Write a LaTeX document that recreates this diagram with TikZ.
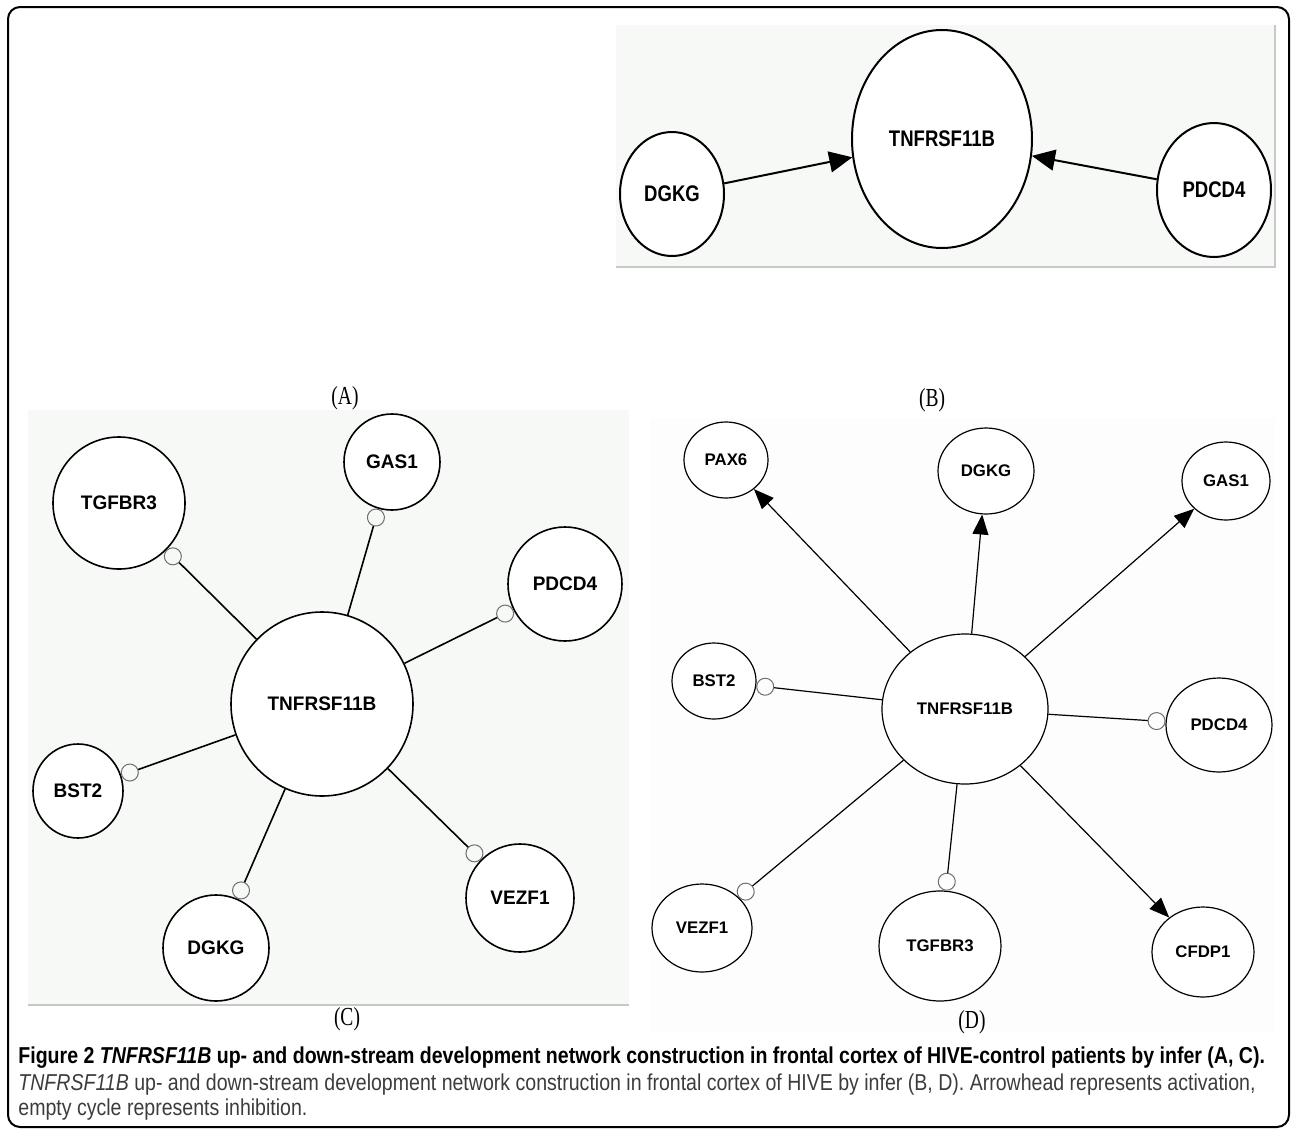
\documentclass[tikz,border=0pt]{standalone}
\usepackage{fontspec}
\usepackage{tikz}
\usetikzlibrary{shapes.geometric,arrows.meta}

\newfontfamily\genB[FakeStretch=0.82]{Liberation Sans}
\newfontfamily\genC[FakeStretch=0.97]{Liberation Sans}
\newfontfamily\genD{Liberation Sans}
\newfontfamily\panelfont[FakeStretch=0.75]{Liberation Serif}
\newfontfamily\capfont[FakeStretch=0.85]{Liberation Sans}

\definecolor{bgtint}{RGB}{246,249,246}
\definecolor{bgpale}{RGB}{253,253,253}
\definecolor{rulegray}{RGB}{200,200,200}
\definecolor{inhgray}{RGB}{110,110,110}
\definecolor{captext}{RGB}{60,60,60}

\tikzset{
    gene/.style={ellipse, draw, fill=white, inner sep=0pt},
    size/.style 2 args={minimum width=#1pt, minimum height=#2pt},
    act/.style 2 args={-{Triangle[length=#1, width=#2]}},
    inh/.style={-{Circle[open, length=#1, color=inhgray, line width=0.5pt]}},
}

\begin{document}
\begin{tikzpicture}[x=0.5pt, y=-0.5pt]
    \useasboundingbox (0,0) rectangle (1292,1131);
    \draw[line width=1pt, rounded corners=6pt] (8,7) rectangle (1289,1127);

    % backgrounds of the panels
    \fill[bgtint] (616,25) rectangle (1275,267);
    \draw[rulegray, line width=0.6pt] (616,267) -- (1275,267) -- (1275,25);
    \fill[bgtint] (28,410) rectangle (629,1005);
    \draw[rulegray, line width=0.6pt] (28,1005) -- (629,1005);
    \fill[bgpale] (650,418) rectangle (1275,1033);

    % panel labels
    \foreach \lbl/\px/\py in {A/345/398, B/932/400, C/347/1019, D/972/1022}
        \node[font=\panelfont\fontsize{13}{13}\selectfont] (lbl\lbl) at (\px,\py) {(\lbl)};

    % (A) two regulators
    \begin{scope}[line width=1pt, font=\genB\bfseries\fontsize{11.3}{12}\selectfont]
        \node[gene, size={52}{62}] (dgkgB) at (672,194) {DGKG};
        \node[gene, size={90}{109}] (hubB) at (942,139) {TNFRSF11B};
        \node[gene, size={57}{67}] (pdcdB) at (1214,190) {PDCD4};
        \draw[act={11.5pt}{10.5pt}] (dgkgB) -- (hubB);
        \draw[act={11.5pt}{10.5pt}] (pdcdB) -- (hubB);
    \end{scope}

    % (C) control network
    \begin{scope}[line width=0.8pt, font=\genC\bfseries\fontsize{9.8}{11}\selectfont]
        \node[gene, size={91}{92}] (hubC) at (322,704) {TNFRSF11B};
        \node[gene, size={66}{66}] (tgfC) at (119,503) {TGFBR3};
        \node[gene, size={48}{48}] (gasC) at (392,462) {GAS1};
        \node[gene, size={57}{57}] (pdcdC) at (565,584) {PDCD4};
        \node[gene, size={45}{47}] (bstC) at (78,791) {BST2};
        \node[gene, size={53}{53}] (dgkgC) at (216,948) {DGKG};
        \node[gene, size={54}{54}] (vezfC) at (520,898) {VEZF1};
        \foreach \g in {tgfC, gasC, pdcdC, bstC, dgkgC, vezfC}
            \draw[inh=9pt] (hubC) -- (\g);
    \end{scope}

    % (D) HIVE network
    \begin{scope}[line width=0.6pt, font=\genD\bfseries\fontsize{8.4}{10}\selectfont]
        \node[gene, size={83}{75}] (hubD) at (965,709) {TNFRSF11B};
        \node[gene, size={42}{38}] (paxD) at (726,460) {PAX6};
        \node[gene, size={48}{43}] (dgkgD) at (986,471) {DGKG};
        \node[gene, size={44}{39}] (gasD) at (1226,481) {GAS1};
        \node[gene, size={42}{38}] (bstD) at (714,681) {BST2};
        \node[gene, size={53}{47}] (pdcdD) at (1219,725) {PDCD4};
        \node[gene, size={50}{44}] (vezfD) at (702,928) {VEZF1};
        \node[gene, size={61}{55}] (tgfD) at (940,946) {TGFBR3};
        \node[gene, size={51}{45}] (cfdpD) at (1203,952) {CFDP1};
        \foreach \g in {paxD, dgkgD, gasD, cfdpD}
            \draw[act={10pt}{8pt}] (hubD) -- (\g);
        \foreach \g in {bstD, pdcdD, vezfD, tgfD}
            \draw[inh=9pt] (hubD) -- (\g);
    \end{scope}

    % caption
    \node[anchor=base west, inner sep=0pt, font=\capfont\bfseries\fontsize{11.5}{13}\selectfont] (capone) at (18,1063)
        {Figure 2 \textit{TNFRSF11B} up- and down-stream development network construction in frontal cortex of HIVE-control patients by infer (A, C).};
    \node[anchor=base west, inner sep=0pt, text=captext, font=\capfont\fontsize{11.5}{13}\selectfont] (captwo) at (18,1090)
        {\textit{TNFRSF11B} up- and down-stream development network construction in frontal cortex of HIVE by infer (B, D). Arrowhead represents activation,};
    \node[anchor=base west, inner sep=0pt, text=captext, font=\capfont\fontsize{11.5}{13}\selectfont] (capthree) at (18,1115)
        {empty cycle represents inhibition.};
\end{tikzpicture}
\end{document}
